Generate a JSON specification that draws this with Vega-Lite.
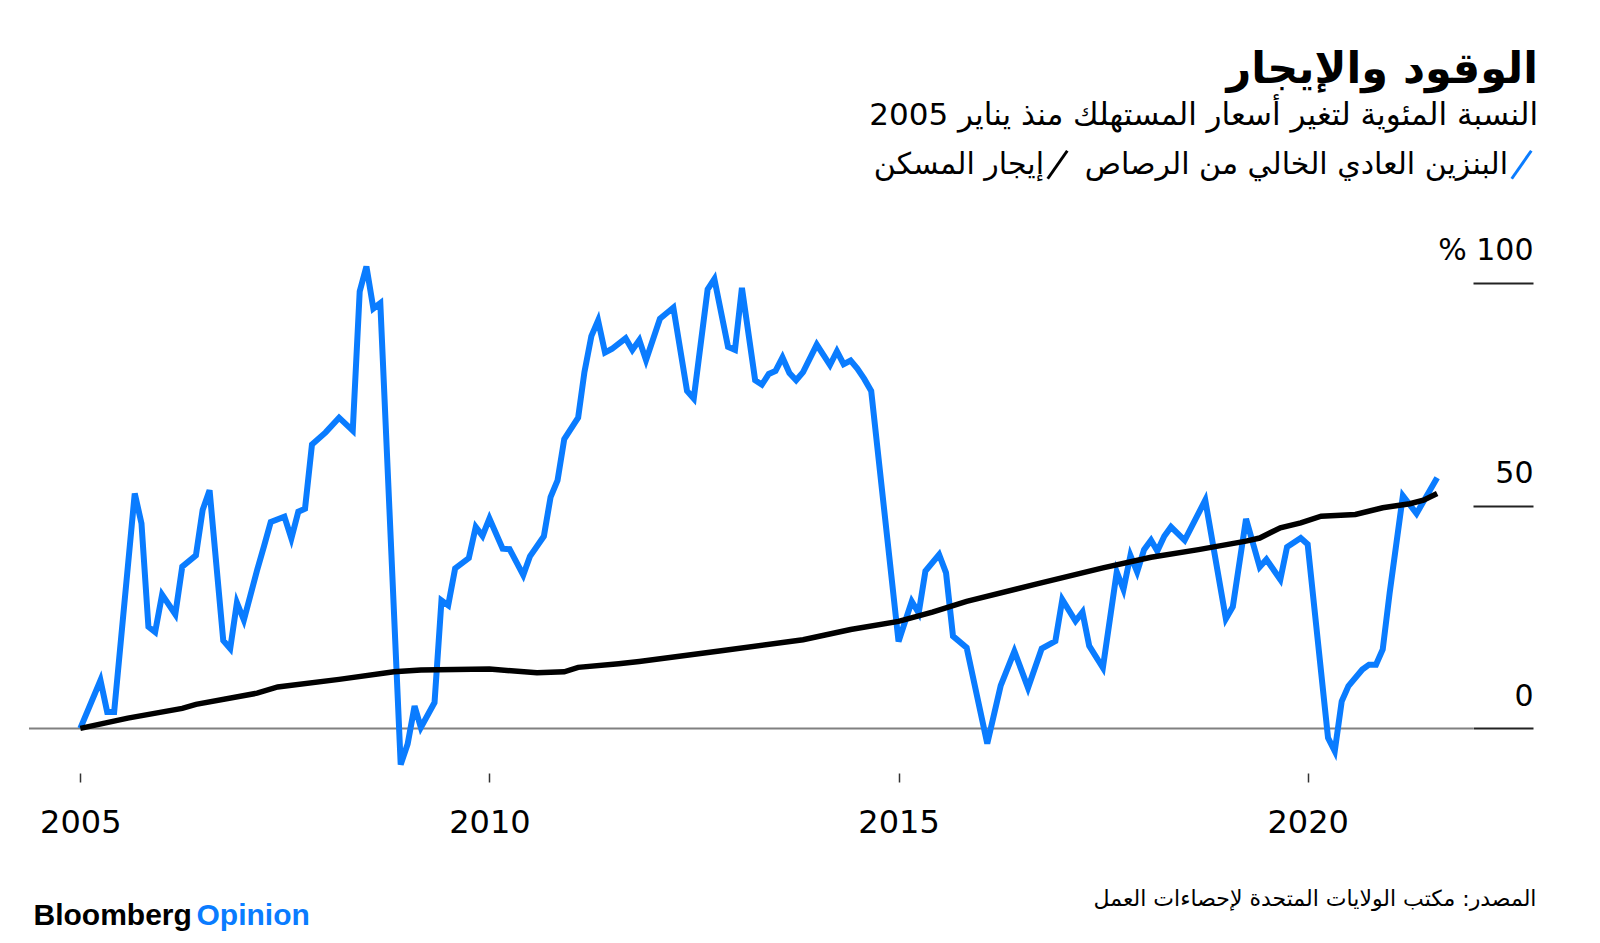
{
  "$schema": "https://vega.github.io/schema/vega-lite/v6.json",
  "width": 1444,
  "height": 535,
  "autosize": {"type": "none"},
  "padding": {"left": 29, "top": 238, "right": 127, "bottom": 170},
  "background": "#ffffff",
  "config": {"view": {"stroke": null}},
  "title": {
    "text": "الوقود والإيجار",
    "subtitle": "النسبة المئوية لتغير أسعار المستهلك منذ يناير 2005",
    "anchor": "end",
    "frame": "group",
    "align": "right",
    "dx": 65,
    "orient": "top",
    "offset": 18,
    "font": "DejaVu Sans",
    "fontSize": 43,
    "fontWeight": "bold",
    "color": "#000000",
    "subtitleFont": "DejaVu Sans",
    "subtitleFontSize": 31,
    "subtitleFontWeight": "normal",
    "subtitleColor": "#000000",
    "subtitlePadding": 9
  },
  "datasets": {
    "gas": [
      {"date": "2005-01-01", "value": 0},
      {"date": "2005-04-01", "value": 10.8},
      {"date": "2005-05-01", "value": 3.7},
      {"date": "2005-06-01", "value": 3.7},
      {"date": "2005-09-01", "value": 52.7},
      {"date": "2005-10-01", "value": 46},
      {"date": "2005-11-01", "value": 22.8},
      {"date": "2005-12-01", "value": 21.6},
      {"date": "2006-01-01", "value": 30},
      {"date": "2006-03-01", "value": 25.6},
      {"date": "2006-04-01", "value": 36.3},
      {"date": "2006-06-01", "value": 38.8},
      {"date": "2006-07-01", "value": 49},
      {"date": "2006-08-01", "value": 53.4},
      {"date": "2006-10-01", "value": 19.7},
      {"date": "2006-11-01", "value": 17.9},
      {"date": "2006-12-01", "value": 28.2},
      {"date": "2007-01-01", "value": 24.3},
      {"date": "2007-03-01", "value": 35.5},
      {"date": "2007-04-01", "value": 40.9},
      {"date": "2007-05-01", "value": 46.3},
      {"date": "2007-07-01", "value": 47.5},
      {"date": "2007-08-01", "value": 42.6},
      {"date": "2007-09-01", "value": 48.6},
      {"date": "2007-10-01", "value": 49.3},
      {"date": "2007-11-01", "value": 63.7},
      {"date": "2008-01-01", "value": 66.4},
      {"date": "2008-03-01", "value": 69.7},
      {"date": "2008-05-01", "value": 66.8},
      {"date": "2008-06-01", "value": 98},
      {"date": "2008-07-01", "value": 103.6},
      {"date": "2008-08-01", "value": 94.2},
      {"date": "2008-09-01", "value": 95.4},
      {"date": "2008-12-01", "value": -8.1},
      {"date": "2009-01-01", "value": -3.5},
      {"date": "2009-02-01", "value": 5.0},
      {"date": "2009-03-01", "value": 0.2},
      {"date": "2009-05-01", "value": 5.8},
      {"date": "2009-06-01", "value": 28.7},
      {"date": "2009-07-01", "value": 27.6},
      {"date": "2009-08-01", "value": 35.9},
      {"date": "2009-10-01", "value": 38.2},
      {"date": "2009-11-01", "value": 45.2},
      {"date": "2009-12-01", "value": 43.2},
      {"date": "2010-01-01", "value": 47.1},
      {"date": "2010-03-01", "value": 40.3},
      {"date": "2010-04-01", "value": 40.2},
      {"date": "2010-06-01", "value": 34.4},
      {"date": "2010-07-01", "value": 38.6},
      {"date": "2010-09-01", "value": 43.1},
      {"date": "2010-10-01", "value": 51.9},
      {"date": "2010-11-01", "value": 55.6},
      {"date": "2010-12-01", "value": 64.9},
      {"date": "2011-02-01", "value": 69.7},
      {"date": "2011-03-01", "value": 79.9},
      {"date": "2011-04-01", "value": 88},
      {"date": "2011-05-01", "value": 91.5},
      {"date": "2011-06-01", "value": 84.3},
      {"date": "2011-07-01", "value": 85.1},
      {"date": "2011-09-01", "value": 87.5},
      {"date": "2011-10-01", "value": 84.9},
      {"date": "2011-11-01", "value": 87.1},
      {"date": "2011-12-01", "value": 82.6},
      {"date": "2012-02-01", "value": 91.9},
      {"date": "2012-04-01", "value": 94.4},
      {"date": "2012-06-01", "value": 75.7},
      {"date": "2012-07-01", "value": 74},
      {"date": "2012-09-01", "value": 98.5},
      {"date": "2012-10-01", "value": 100.8},
      {"date": "2012-12-01", "value": 85.6},
      {"date": "2013-01-01", "value": 84.9},
      {"date": "2013-02-01", "value": 98.8},
      {"date": "2013-04-01", "value": 78.1},
      {"date": "2013-05-01", "value": 77.1},
      {"date": "2013-06-01", "value": 79.5},
      {"date": "2013-07-01", "value": 80.2},
      {"date": "2013-08-01", "value": 83.2},
      {"date": "2013-09-01", "value": 79.7},
      {"date": "2013-10-01", "value": 78.1},
      {"date": "2013-11-01", "value": 79.9},
      {"date": "2014-01-01", "value": 86.1},
      {"date": "2014-03-01", "value": 81.5},
      {"date": "2014-04-01", "value": 84.6},
      {"date": "2014-05-01", "value": 81.7},
      {"date": "2014-06-01", "value": 82.5},
      {"date": "2014-07-01", "value": 80.7},
      {"date": "2014-08-01", "value": 78.4},
      {"date": "2014-09-01", "value": 75.7},
      {"date": "2015-01-01", "value": 19.5},
      {"date": "2015-03-01", "value": 28.5},
      {"date": "2015-04-01", "value": 25.9},
      {"date": "2015-05-01", "value": 35.3},
      {"date": "2015-07-01", "value": 39},
      {"date": "2015-08-01", "value": 34.9},
      {"date": "2015-09-01", "value": 20.7},
      {"date": "2015-11-01", "value": 18.1},
      {"date": "2016-02-01", "value": -3.4},
      {"date": "2016-04-01", "value": 9.6},
      {"date": "2016-06-01", "value": 17.3},
      {"date": "2016-08-01", "value": 9.1},
      {"date": "2016-10-01", "value": 17.9},
      {"date": "2016-12-01", "value": 19.6},
      {"date": "2017-01-01", "value": 28.9},
      {"date": "2017-03-01", "value": 24.1},
      {"date": "2017-04-01", "value": 26.1},
      {"date": "2017-05-01", "value": 18.5},
      {"date": "2017-07-01", "value": 13.6},
      {"date": "2017-09-01", "value": 35.1},
      {"date": "2017-10-01", "value": 31.2},
      {"date": "2017-11-01", "value": 38.8},
      {"date": "2017-12-01", "value": 35.1},
      {"date": "2018-01-01", "value": 40.1},
      {"date": "2018-02-01", "value": 42.2},
      {"date": "2018-03-01", "value": 39.8},
      {"date": "2018-04-01", "value": 43.1},
      {"date": "2018-05-01", "value": 45.2},
      {"date": "2018-07-01", "value": 42.2},
      {"date": "2018-10-01", "value": 51.2},
      {"date": "2019-01-01", "value": 24.6},
      {"date": "2019-02-01", "value": 27.3},
      {"date": "2019-04-01", "value": 47.0},
      {"date": "2019-06-01", "value": 36.2},
      {"date": "2019-07-01", "value": 37.9},
      {"date": "2019-09-01", "value": 33.4},
      {"date": "2019-10-01", "value": 40.7},
      {"date": "2019-12-01", "value": 42.7},
      {"date": "2020-01-01", "value": 41.3},
      {"date": "2020-04-01", "value": -2.1},
      {"date": "2020-05-01", "value": -5.1},
      {"date": "2020-06-01", "value": 6.1},
      {"date": "2020-07-01", "value": 9.5},
      {"date": "2020-09-01", "value": 13.2},
      {"date": "2020-10-01", "value": 14.3},
      {"date": "2020-11-01", "value": 14.3},
      {"date": "2020-12-01", "value": 17.7},
      {"date": "2021-01-01", "value": 30.4},
      {"date": "2021-03-01", "value": 52.2},
      {"date": "2021-05-01", "value": 48.2},
      {"date": "2021-08-01", "value": 56.2}
    ],
    "rent": [
      {"date": "2005-01-01", "value": 0},
      {"date": "2005-08-01", "value": 2.3},
      {"date": "2006-04-01", "value": 4.5},
      {"date": "2006-06-01", "value": 5.4},
      {"date": "2007-03-01", "value": 7.9},
      {"date": "2007-06-01", "value": 9.3},
      {"date": "2008-03-01", "value": 11.0},
      {"date": "2008-11-01", "value": 12.7},
      {"date": "2009-03-01", "value": 13.1},
      {"date": "2010-01-01", "value": 13.3},
      {"date": "2010-08-01", "value": 12.5},
      {"date": "2010-12-01", "value": 12.7},
      {"date": "2011-02-01", "value": 13.7},
      {"date": "2011-08-01", "value": 14.5},
      {"date": "2011-11-01", "value": 15.0},
      {"date": "2012-11-01", "value": 17.4},
      {"date": "2013-11-01", "value": 19.9},
      {"date": "2014-06-01", "value": 22.2},
      {"date": "2015-01-01", "value": 24.0},
      {"date": "2015-06-01", "value": 26.1},
      {"date": "2015-11-01", "value": 28.5},
      {"date": "2016-09-01", "value": 32.3},
      {"date": "2017-07-01", "value": 36.0},
      {"date": "2018-02-01", "value": 38.4},
      {"date": "2018-09-01", "value": 40.1},
      {"date": "2019-04-01", "value": 42.0},
      {"date": "2019-06-01", "value": 42.7},
      {"date": "2019-09-01", "value": 45.0},
      {"date": "2019-12-01", "value": 46.1},
      {"date": "2020-03-01", "value": 47.6},
      {"date": "2020-08-01", "value": 48.0},
      {"date": "2020-12-01", "value": 49.5},
      {"date": "2021-04-01", "value": 50.4},
      {"date": "2021-06-01", "value": 51.2},
      {"date": "2021-08-01", "value": 52.7}
    ]
  },
  "layer": [
    {
      "data": {"values": [{"level": 0}]},
      "mark": {"type": "rule", "color": "#808080", "strokeWidth": 2},
      "encoding": {
        "y": {
          "field": "level",
          "type": "quantitative",
          "scale": {"domain": [-10, 110], "nice": false, "zero": false},
          "axis": {
            "orient": "left",
            "title": "Bloomberg",
            "labels": false,
            "ticks": false,
            "domain": false,
            "grid": false,
            "titleAngle": 0,
            "titleX": 4,
            "titleY": 686,
            "titleAlign": "left",
            "titleBaseline": "alphabetic",
            "titleFont": "Liberation Sans",
            "titleFontSize": 30,
            "titleFontWeight": "bold",
            "titleColor": "#000000"
          }
        }
      }
    },
    {
      "data": {"name": "gas"},
      "mark": {"type": "line", "strokeWidth": 6, "strokeJoin": "miter"},
      "encoding": {
        "x": {
          "field": "date",
          "type": "temporal",
          "scale": {
            "type": "utc",
            "domain": [
              {"year": 2004, "month": 5, "date": 17, "utc": true},
              {"year": 2022, "month": 1, "date": 8, "utc": true}
            ]
          },
          "axis": {
            "orient": "bottom",
            "values": [
              {"year": 2005, "utc": true},
              {"year": 2010, "utc": true},
              {"year": 2015, "utc": true},
              {"year": 2020, "utc": true}
            ],
            "labelExpr": "utcFormat(datum.value, '%Y')",
            "domain": false,
            "grid": false,
            "tickSize": 9,
            "tickWidth": 1.5,
            "tickColor": "#333333",
            "labelFont": "DejaVu Sans",
            "labelFontSize": 32,
            "labelColor": "#000000",
            "labelPadding": 25,
            "labelFlush": false,
            "labelOverlap": false,
            "title": "المصدر: مكتب الولايات المتحدة لإحصاءات العمل",
            "titleFont": "DejaVu Sans",
            "titleFontSize": 22,
            "titleFontWeight": "normal",
            "titleColor": "#000000",
            "titleX": 1507,
            "titleY": 125,
            "titleAlign": "right",
            "titleBaseline": "middle",
            "titleAngle": 0
          }
        },
        "y": {
          "field": "value",
          "type": "quantitative",
          "scale": {"domain": [-10, 110], "nice": false, "zero": false},
          "axis": {
            "orient": "right",
            "values": [0, 50, 100],
            "labelExpr": "datum.value == 100 ? '% 100' : datum.label",
            "domain": false,
            "grid": false,
            "tickSize": 60,
            "tickWidth": 2,
            "tickColor": "#222222",
            "labelAlign": "right",
            "labelBaseline": "alphabetic",
            "labelOffset": -23,
            "labelPadding": 0,
            "labelFont": "DejaVu Sans",
            "labelFontSize": 30,
            "labelColor": "#000000",
            "labelFlush": false,
            "title": null
          }
        },
        "color": {
          "datum": "البنزين العادي الخالي من الرصاص",
          "type": "nominal",
          "scale": {
            "domain": ["إيجار المسكن", "البنزين العادي الخالي من الرصاص"],
            "range": ["#000000", "#0a7cff"]
          },
          "legend": {
            "orient": "none",
            "legendX": 1013,
            "legendY": -89,
            "direction": "horizontal",
            "title": null,
            "symbolType": "M-0.7,1L0.7,-1",
            "symbolSize": 784,
            "symbolStrokeWidth": 3,
            "symbolFillColor": "transparent",
            "labelFont": "DejaVu Sans",
            "labelFontSize": 30,
            "labelColor": "#000000",
            "labelAlign": "right",
            "labelOffset": -29,
            "labelLimit": 2000,
            "columnPadding": 10,
            "padding": 0
          }
        }
      }
    },
    {
      "data": {"name": "rent"},
      "mark": {"type": "line", "strokeWidth": 5.5},
      "encoding": {
        "x": {
          "field": "date",
          "type": "temporal",
          "axis": {
            "orient": "top",
            "labels": false,
            "ticks": false,
            "domain": false,
            "grid": false,
            "title": "Opinion",
            "titleX": 167,
            "titleY": 686,
            "titleAlign": "left",
            "titleBaseline": "alphabetic",
            "titleFont": "Liberation Sans",
            "titleFontSize": 30,
            "titleFontWeight": "bold",
            "titleColor": "#0a7cff",
            "titleAngle": 0
          }
        },
        "y": {"field": "value", "type": "quantitative", "axis": null},
        "color": {"datum": "إيجار المسكن", "type": "nominal"}
      }
    }
  ],
  "resolve": {"axis": {"x": "independent", "y": "independent"}}
}
